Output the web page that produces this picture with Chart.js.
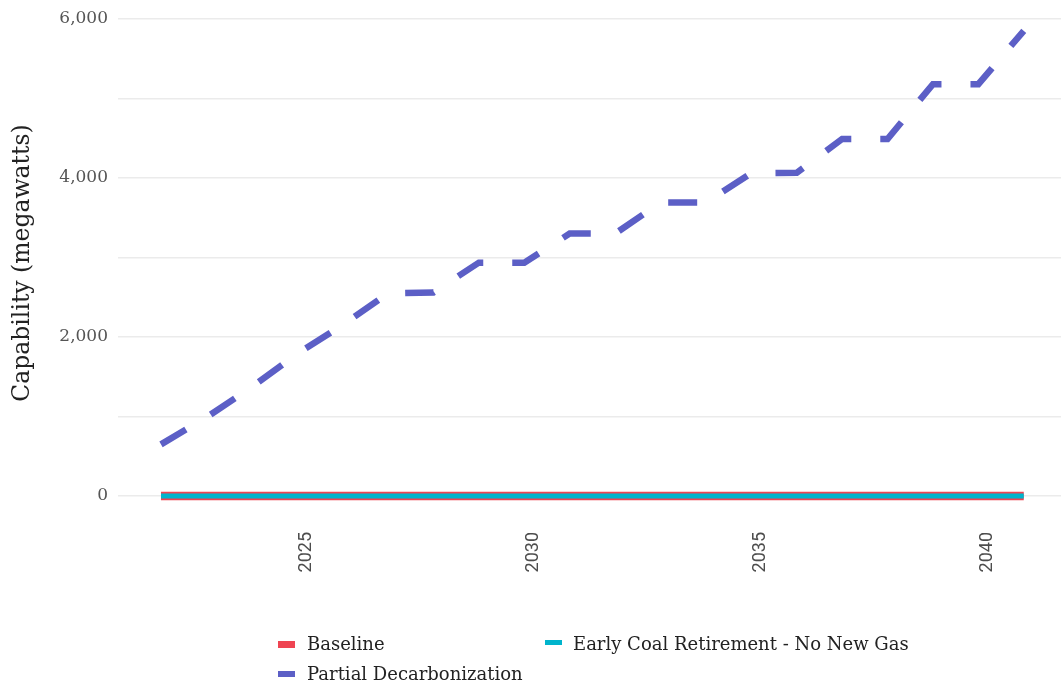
<!DOCTYPE html>
<html><head><meta charset="utf-8">
<script src="https://cdn.jsdelivr.net/npm/chart.js@4/dist/chart.umd.min.js"></script>
<style>
html,body{margin:0;padding:0;background:#fff;overflow:hidden}
#wrap{position:relative;width:1061px;height:683px}
#c{position:absolute;left:0;top:0}
.lt{position:absolute;font-family:'DejaVu Serif',serif;font-size:18px;line-height:18px;color:#222;white-space:nowrap}
.sw{position:absolute}
</style></head>
<body><div id="wrap"><canvas id="c" width="1061" height="683"></canvas><div id="legend"></div></div>
<script>
const years = [2022,2023,2024,2025,2026,2027,2028,2029,2030,2031,2032,2033,2034,2035,2036,2037,2038,2039,2040,2041];
const baseline = [0,0,0,0,0,0,0,0,0,0,0,0,0,0,0,0,0,0,0,0];
const earlyCoal = [0,0,0,0,0,0,0,0,0,0,0,0,0,0,0,0,0,0,0,0];
const partialDecarb = [650,990,1370,1790,2150,2550,2560,2935,2935,3300,3300,3690,3690,4060,4065,4490,4490,5180,5180,5850];
const seriesNames = ['Baseline','Early Coal Retirement - No New Gas','Partial Decarbonization'];
const seriesColors = ['#ef4452','#00b4cc','#5c5fc6'];
const xTickValues = [2025,2030,2035,2040];
const yTickValues = [0,1000,2000,3000,4000,5000,6000];
const yTickLabels = ['0','','2,000','','4,000','','6,000'];
const yTitle = 'Capability (megawatts)';

const pts = vals => years.map((y,i)=>({x:y,y:vals[i]}));

const chart = new Chart(document.getElementById('c'), {
  type:'line',
  data:{datasets:[
    {label:seriesNames[0],data:pts(baseline),borderColor:seriesColors[0],backgroundColor:seriesColors[0],borderWidth:8.5,pointRadius:0,order:3,borderCapStyle:'butt'},
    {label:seriesNames[1],data:pts(earlyCoal),borderColor:seriesColors[1],backgroundColor:seriesColors[1],borderWidth:5,pointRadius:0,order:2,borderCapStyle:'butt'},
    {label:seriesNames[2],data:pts(partialDecarb),borderColor:seriesColors[2],backgroundColor:seriesColors[2],borderWidth:6.5,pointRadius:0,order:1,borderDash:[29,29],borderCapStyle:'butt',borderJoinStyle:'miter'}
  ]},
  options:{
    responsive:false,animation:false,
    layout:{padding:{top:7,right:0,left:0,bottom:0}},
    plugins:{legend:{display:false},tooltip:{enabled:false}},
    scales:{
      x:{type:'linear',min:2021.053,max:2041.82,
        grid:{display:false,drawTicks:false},border:{display:false},
        afterBuildTicks:s=>{s.ticks=xTickValues.map(v=>({value:v}));},
        afterFit:s=>{s.height=164;s.paddingLeft=0;s.paddingRight=0;},
        ticks:{autoSkip:false,minRotation:90,maxRotation:90,padding:13,labelOffset:9,color:'#4d4d4d',
          font:{family:'Roboto',size:18},callback:v=>String(v)}
      },
      y:{type:'linear',min:-289,max:6150,
        grid:{color:'#ebebeb',lineWidth:1.6,drawTicks:false},border:{display:false},
        afterBuildTicks:s=>{s.ticks=yTickValues.map(v=>({value:v}));},
        afterFit:s=>{s.width=118;s.paddingTop=0;s.paddingBottom=0;},
        title:{display:true,text:yTitle,color:'#222',font:{family:'DejaVu Serif',size:23.5},padding:{top:9,bottom:4}},
        ticks:{padding:10,color:'#555',font:{family:'DejaVu Serif',size:17},
          callback:(v,i)=>yTickLabels[yTickValues.indexOf(v)] ?? ''}
      }
    }
  }
});

// legend (HTML)
const legendLayout = [
  {sx:278,sy:641,sw:17,sh:7,tx:307,ty:635},
  {sx:545,sy:640,sw:17,sh:4.5,tx:573,ty:635},
  {sx:278,sy:671,sw:17,sh:6,tx:307,ty:665}
];
const leg = document.getElementById('legend');
seriesNames.forEach((n,i)=>{
  const L = legendLayout[i];
  const s = document.createElement('div');
  s.className='sw';
  s.style.cssText=`left:${L.sx}px;top:${L.sy}px;width:${L.sw}px;height:${L.sh}px;background:${seriesColors[i]}`;
  const t = document.createElement('div');
  t.className='lt';
  t.style.left=L.tx+'px';t.style.top=L.ty+'px';
  t.textContent=n;
  leg.appendChild(s);leg.appendChild(t);
});
</script>
</body></html>
